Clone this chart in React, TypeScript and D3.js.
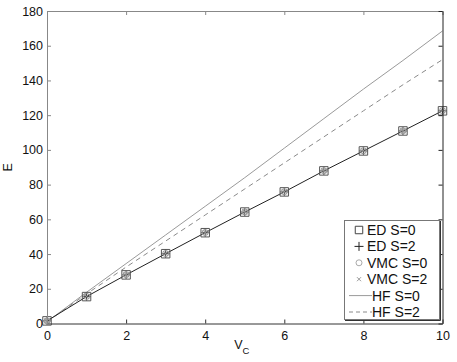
import React, { useRef, useEffect } from 'react';
import { select, line, scaleLinear, axisBottom, axisLeft, axisTop, axisRight, symbol, symbolSquare } from 'd3';

const vc = [0, 1, 2, 3, 4, 5, 6, 7, 8, 9, 10];
const edS0 = [1.5, 15.5, 28, 40.2, 52.3, 64.2, 75.8, 87.9, 99.4, 110.9, 122.5];
const edS2 = [1.5, 15.5, 28, 40.2, 52.3, 64.2, 75.8, 87.9, 99.4, 110.9, 122.5];
const vmcS0 = [1.5, 15.6, 28.1, 40.3, 52.4, 64.3, 75.9, 88, 99.5, 111, 122.6];
const vmcS2 = [1.5, 15.6, 28.1, 40.3, 52.4, 64.3, 75.9, 88, 99.5, 111, 122.6];
const hfS0 = [1, 18, 34.5, 51, 67.5, 84, 101, 118, 135, 151.5, 168.5];
const hfS2 = [1, 17, 32.5, 47.5, 62.5, 77.5, 92.5, 107.5, 122.5, 137.5, 152];
const xTicks = [0, 2, 4, 6, 8, 10];
const yTicks = [0, 20, 40, 60, 80, 100, 120, 140, 160, 180];
const legendLabels = ['ED S=0', 'ED S=2', 'VMC S=0', 'VMC S=2', 'HF S=0', 'HF S=2'];

const W = 457;
const H = 362;
const m = { left: 47, right: 442.5, top: 11, bottom: 323.5 };
const FONT = '"Liberation Sans", Arial, sans-serif';

const App = () => {
  const svgRef = useRef<SVGSVGElement>(null);

  useEffect(() => {
    const svg = select(svgRef.current);
    svg.selectAll('*').remove();

    const x = scaleLinear().domain([0, 10]).range([m.left, m.right]);
    const y = scaleLinear().domain([0, 180]).range([m.bottom, m.top]);

    const g = svg.append('g');

    // lines
    const mk = line<number>().x((d, i) => x(vc[i])).y(d => y(d));
    g.append('path').attr('d', mk(hfS0)).attr('fill', 'none').attr('stroke', '#9a9a9a').attr('stroke-width', 1);
    g.append('path').attr('d', mk(hfS2)).attr('fill', 'none').attr('stroke', '#8a8a8a').attr('stroke-width', 1).attr('stroke-dasharray', '5,4');
    g.append('path').attr('d', mk(edS0)).attr('fill', 'none').attr('stroke', '#222').attr('stroke-width', 1);

    // markers
    const sq = symbol(symbolSquare, 72)();
    g.selectAll('.sq').data(edS0).join('path').attr('class', 'sq')
      .attr('transform', (d, i) => `translate(${x(vc[i])},${y(d)})`)
      .attr('d', sq).attr('fill', 'none').attr('stroke', '#555').attr('stroke-width', 1);
    g.selectAll('.pl').data(edS2).join('path').attr('class', 'pl')
      .attr('transform', (d, i) => `translate(${x(vc[i])},${y(d)})`)
      .attr('d', 'M-4,0H4M0,-4V4').attr('fill', 'none').attr('stroke', '#444').attr('stroke-width', 1);
    g.selectAll('.ci').data(vmcS0).join('circle').attr('class', 'ci')
      .attr('cx', (d, i) => x(vc[i])).attr('cy', d => y(d)).attr('r', 3)
      .attr('fill', 'none').attr('stroke', '#999').attr('stroke-width', 1);
    g.selectAll('.xx').data(vmcS2).join('path').attr('class', 'xx')
      .attr('transform', (d, i) => `translate(${x(vc[i])},${y(d)})`)
      .attr('d', 'M-2.5,-2.5L2.5,2.5M-2.5,2.5L2.5,-2.5').attr('fill', 'none').attr('stroke', '#999').attr('stroke-width', 1);

    // axes
    const styleAxis = (sel: any, color: string) => {
      sel.select('.domain').attr('stroke', color);
      sel.selectAll('.tick line').attr('stroke', color);
      sel.selectAll('.tick text').attr('fill', '#111').style('font-family', FONT).style('font-size', '12.5px');
    };
    const bottom = svg.append('g').attr('transform', `translate(0,${m.bottom})`)
      .call(axisBottom(x).tickValues(xTicks).tickSize(-4).tickSizeOuter(0).tickPadding(8).tickFormat(d => String(d)));
    styleAxis(bottom, '#333');
    const top = svg.append('g').attr('transform', `translate(0,${m.top})`)
      .call(axisTop(x).tickValues(xTicks).tickSize(-4).tickSizeOuter(0).tickFormat(() => ''));
    styleAxis(top, '#888');
    const left = svg.append('g').attr('transform', `translate(${m.left},0)`)
      .call(axisLeft(y).tickValues(yTicks).tickSize(-4).tickSizeOuter(0).tickPadding(4).tickFormat(d => String(d)));
    styleAxis(left, '#888');
    const right = svg.append('g').attr('transform', `translate(${m.right},0)`)
      .call(axisRight(y).tickValues(yTicks).tickSize(-4).tickSizeOuter(0).tickFormat(() => ''));
    styleAxis(right, '#222');

    // axis labels
    const xl = svg.append('text').attr('x', (m.left + m.right) / 2 - 3).attr('y', 349)
      .attr('text-anchor', 'middle').style('font-family', FONT).style('font-size', '12.5px').attr('fill', '#111');
    xl.append('tspan').text('V');
    xl.append('tspan').attr('dy', 5).style('font-size', '9.5px').text('C');
    svg.append('text').attr('transform', `translate(12,${(m.top + m.bottom) / 2}) rotate(-90)`)
      .attr('text-anchor', 'middle').style('font-family', FONT).style('font-size', '12.5px').attr('fill', '#111').text('E');

    // legend
    const lg = svg.append('g');
    lg.append('rect').attr('x', 344.5).attr('y', 220.5).attr('width', 95).attr('height', 99)
      .attr('fill', '#fff').attr('stroke', '#777').attr('stroke-width', 1);
    lg.append('path').attr('d', 'M440.5,221V320.5H345').attr('fill', 'none').attr('stroke', '#333');
    const rowY = (i: number) => 230 + i * 16.4;
    legendLabels.forEach((lab, i) => {
      const yy = rowY(i);
      const mx = 359;
      if (i === 0) lg.append('path').attr('transform', `translate(${mx},${yy})`).attr('d', symbol(symbolSquare, 56)()).attr('fill', 'none').attr('stroke', '#444');
      if (i === 1) lg.append('path').attr('transform', `translate(${mx},${yy})`).attr('d', 'M-4.5,0H4.5M0,-4.5V4.5').attr('fill', 'none').attr('stroke', '#222');
      if (i === 2) lg.append('circle').attr('cx', mx).attr('cy', yy).attr('r', 3).attr('fill', 'none').attr('stroke', '#aaa');
      if (i === 3) lg.append('path').attr('transform', `translate(${mx},${yy})`).attr('d', 'M-2,-2L2,2M-2,2L2,-2').attr('fill', 'none').attr('stroke', '#999');
      if (i === 4) lg.append('line').attr('x1', 349).attr('x2', 372).attr('y1', yy).attr('y2', yy).attr('stroke', '#9a9a9a');
      if (i === 5) lg.append('line').attr('x1', 349).attr('x2', 372).attr('y1', yy).attr('y2', yy).attr('stroke', '#8a8a8a').attr('stroke-dasharray', '4,3');
      lg.append('text').attr('x', i >= 4 ? 372 : 367).attr('y', yy + 5)
        .style('font-family', FONT).style('font-size', '14px')
        .attr('fill', '#111').text(lab);
    });
  }, []);

  return (
    <svg ref={svgRef} width={W} height={H} style={{ position: 'absolute', left: 0, top: 0, background: '#fff' }} />
  );
};

export default App;
